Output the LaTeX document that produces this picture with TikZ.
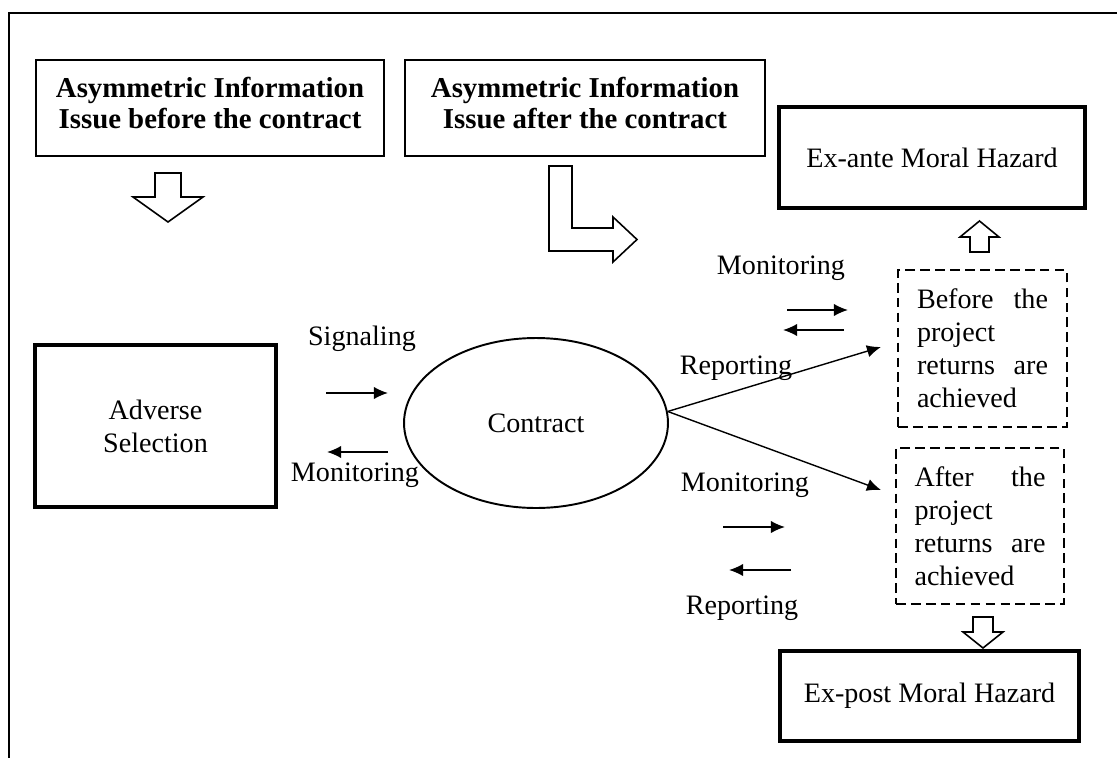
\documentclass[tikz,border=0pt]{standalone}
\usepackage{fontspec}
\setmainfont{Liberation Serif}
\usetikzlibrary{arrows.meta,shapes.geometric}
\begin{document}
\begin{tikzpicture}[x=0.02cm,y=-0.02cm,>={Latex[length=8pt,width=7pt]},
  font=\fontsize{16}{18.7}\selectfont,
  box/.style={draw,line width=0.8pt,inner sep=0pt,align=center,text depth=6pt,font=\fontsize{16.4}{17.6}\selectfont\bfseries},
  heavybox/.style={draw,line width=2.1pt,inner sep=0pt,align=center},
  dashbox/.style={draw,dash pattern=on 5.5pt off 3pt,line width=0.8pt,text width=2.62cm,align=left},
  blockarrow/.style={draw,fill=white,line width=0.9pt,line join=miter},
  lbl/.style={inner sep=0pt}]
\useasboundingbox (0,0) rectangle (1117,758);
\draw[line width=1.4pt] (9,758)--(9,13)--(1117,13);

\node[box,minimum width=6.96cm,minimum height=1.92cm] (before) at (210,108) {Asymmetric Information\\Issue before the contract};
\node[box,minimum width=7.2cm,minimum height=1.92cm] (after) at (585,108) {Asymmetric Information\\Issue after the contract};
\node[heavybox,minimum width=6.12cm,minimum height=2.02cm] (exante) at (932,157.5) {Ex-ante Moral Hazard};
\node[heavybox,minimum width=4.82cm,minimum height=3.24cm] (adverse) at (155.5,426) {Adverse\\Selection};
\node[draw,ellipse,line width=1.1pt,inner sep=0pt,minimum width=5.28cm,minimum height=3.4cm] (contract) at (536,423) {Contract};
\node[dashbox,minimum width=3.38cm,minimum height=3.14cm] (befproj) at (982.5,348.5) {Before\hfill the\\project\\returns\hfill are\\achieved};
\node[dashbox,minimum width=3.36cm,minimum height=3.12cm] (aftproj) at (980,526) {After\hfill the\\project\\returns\hfill are\\achieved};
\node[heavybox,minimum width=5.98cm,minimum height=1.8cm] (expost) at (929.5,696) {Ex-post Moral Hazard};

\draw[blockarrow] (155,173)--(181,173)--(181,197)--(203,197)--(168,222)--(133,197)--(155,197)--cycle;
\draw[blockarrow] (549,166)--(572,166)--(572,228)--(613,228)--(613,217)--(637,239.5)--(613,262)--(613,251)--(549,251)--cycle;
\draw[blockarrow] (970,252)--(989,252)--(989,237)--(999,237)--(979.5,221)--(960,237)--(970,237)--cycle;
\draw[blockarrow] (973,617)--(993,617)--(993,632)--(1003,632)--(983,648)--(963,632)--(973,632)--cycle;

\node[lbl] (signal) at (362,339) {Signaling};
\node[lbl] (monleft) at (355,475) {Monitoring};
\node[lbl] (monup) at (781,268) {Monitoring};
\node[lbl] (repup) at (736,368) {Reporting};
\node[lbl] (mondown) at (745,485) {Monitoring};
\node[lbl] (repdown) at (742,608) {Reporting};

\draw[->,line width=0.8pt] (326,393)--(388,393);
\draw[->,line width=0.8pt] (388,452)--(327,452);
\draw[->,line width=0.8pt] (787,310)--(848,310);
\draw[->,line width=0.8pt] (844,330)--(783,330);
\draw[->,line width=0.8pt] (723,527)--(785,527);
\draw[->,line width=0.8pt] (791,570)--(729,570);

\coordinate (tipup) at (881,347);
\coordinate (tipdown) at (881,490);
\draw[->,line width=0.8pt] (contract.5)--(tipup);
\draw[->,line width=0.8pt] (contract.5)--(tipdown);
\end{tikzpicture}
\end{document}
